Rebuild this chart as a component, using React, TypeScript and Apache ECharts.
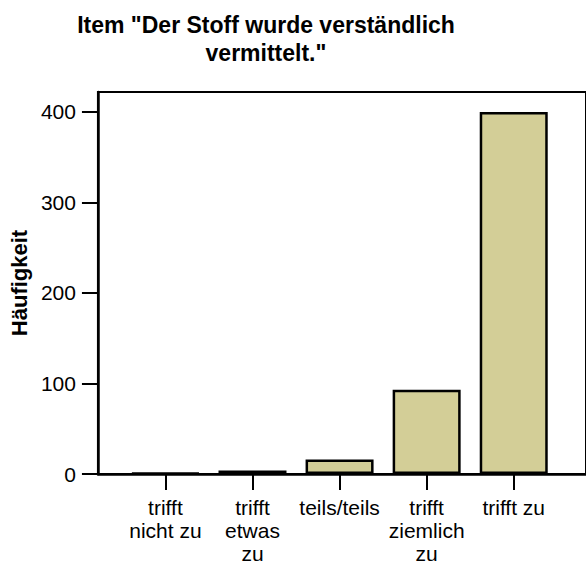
import React, { useEffect, useRef } from "react";
import * as echarts from "echarts";

const categories = ["trifft\nnicht zu", "trifft\netwas\nzu", "teils/teils", "trifft\nziemlich\nzu", "trifft zu"];
const counts = [1, 4, 16, 93, 400];
const yTicks = [0, 100, 200, 300, 400];
const titleText = 'Item "Der Stoff wurde verständlich\nvermittelt."';
const yName = "Häufigkeit";

export default function App() {
  const ref = useRef<HTMLDivElement>(null);
  useEffect(() => {
    const chart = echarts.init(ref.current!, null, { renderer: "svg" });
    const idx = categories.map((_, i) => i);
    chart.setOption({
      animation: false,
      backgroundColor: "#ffffff",
      textStyle: { fontFamily: "Liberation Sans, Arial, sans-serif" },
      title: {
        text: titleText,
        left: 266,
        top: 11,
        padding: 0,
        textAlign: "center",
        textStyle: {
          fontFamily: "Liberation Sans, Arial, sans-serif",
          fontSize: 23,
          fontWeight: "bold",
          lineHeight: 28,
          color: "#000",
        },
      },
      grid: {
        left: 97,
        top: 92,
        right: -10,
        bottom: 92,
        show: true,
        borderColor: "#000",
        borderWidth: 2,
        containLabel: false,
      },
      xAxis: {
        type: "value",
        min: -0.775,
        max: 4.83,
        splitLine: { show: false },
        axisLine: { show: true, onZero: false, lineStyle: { color: "#000", width: 2.5 } },
        axisTick: {
          show: true,
          inside: false,
          length: 16,
          customValues: idx,
          lineStyle: { color: "#000", width: 2 },
        },
        axisLabel: {
          customValues: idx,
          formatter: (v: number) => categories[Math.round(v)] ?? "",
          fontSize: 21,
          lineHeight: 23,
          margin: 22,
          color: "#000",
          fontFamily: "Liberation Sans, Arial, sans-serif",
        },
      },
      yAxis: {
        type: "value",
        min: 0,
        max: 422,
        name: yName,
        nameLocation: "middle",
        nameGap: 64,
        nameTextStyle: {
          fontSize: 22,
          fontWeight: "bold",
          color: "#000",
          fontFamily: "Liberation Sans, Arial, sans-serif",
        },
        splitLine: { show: false },
        axisLine: { show: true, onZero: false, lineStyle: { color: "#000", width: 2.5 } },
        axisTick: {
          show: true,
          length: 16,
          customValues: yTicks,
          lineStyle: { color: "#000", width: 2 },
        },
        axisLabel: {
          customValues: yTicks,
          fontSize: 21,
          margin: 22,
          color: "#000",
          fontFamily: "Liberation Sans, Arial, sans-serif",
        },
      },
      series: [
        {
          type: "bar",
          data: counts.map((c, i) => [i, c]),
          barWidth: 68,
          itemStyle: { color: "#d3ce97", borderColor: "#000", borderWidth: 2.5 },
        },
      ],
    });
    return () => chart.dispose();
  }, []);
  return (
    <div
      ref={ref}
      style={{ position: "fixed", left: 0, top: 0, width: 586, height: 566, background: "#fff" }}
    />
  );
}
